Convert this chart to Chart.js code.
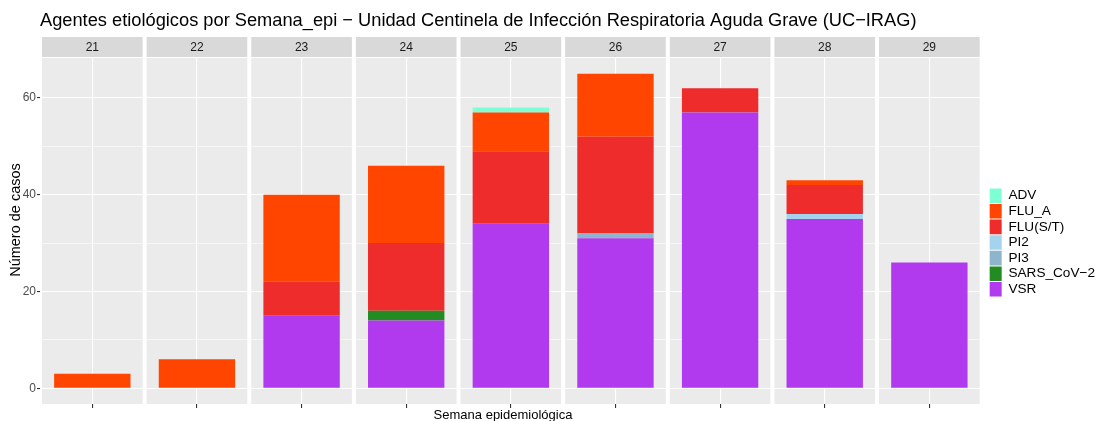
<!DOCTYPE html>
<html>
<head>
<meta charset="utf-8">
<script src="https://cdn.jsdelivr.net/npm/chart.js@4/dist/chart.umd.min.js"></script>
<style>
  body { margin: 0; background: #fff; }
  #wrap { width: 1096px; height: 421px; }
</style>
</head>
<body>
<div id="wrap"><canvas id="irag-chart"></canvas></div>
<script>
const semanas = ['21', '22', '23', '24', '25', '26', '27', '28', '29'];
const vsr     = [0, 0, 15, 14, 34, 31, 57, 35, 26];
const sarsCov = [0, 0, 0, 2, 0, 0, 0, 0, 0];
const pi3     = [0, 0, 0, 0, 0, 1, 0, 0, 0];
const pi2     = [0, 0, 0, 0, 0, 0, 0, 1, 0];
const fluST   = [0, 0, 7, 14, 15, 20, 5, 6, 0];
const fluA    = [3, 6, 18, 16, 8, 13, 0, 1, 0];
const adv     = [0, 0, 0, 0, 1, 0, 0, 0, 0];
const yTicks  = [0, 10, 20, 30, 40, 50, 60];

const FONT = '"Liberation Sans", Arial, sans-serif';
Chart.defaults.font.family = FONT;

// facet panels + strips under the grid, axis titles on top
const facetPanels = {
    id: 'facetPanels',
    beforeDraw(chart) {
        const { ctx, chartArea, scales: { x } } = chart;
        const step = (chartArea.right - chartArea.left) / semanas.length;
        const half = step / 2 - 2;
        ctx.save();
        ctx.fillStyle = '#ffffff';
        ctx.fillRect(0, 0, chart.width, chart.height);
        semanas.forEach((s, i) => {
            const cx = x.getPixelForValue(i);
            ctx.fillStyle = '#EBEBEB';
            ctx.fillRect(cx - half, chartArea.top, half * 2, chartArea.bottom - chartArea.top);
            ctx.fillStyle = '#D9D9D9';
            ctx.fillRect(cx - half, chartArea.top - 21, half * 2, 20);
            ctx.fillStyle = '#1A1A1A';
            ctx.font = '12px ' + FONT;
            ctx.textAlign = 'center';
            ctx.textBaseline = 'middle';
            ctx.fillText(s, cx, chartArea.top - 10.5);
        });
        ctx.restore();
    },
    afterLayout(chart) {
        // push the legend a bit right and down, like the ggplot guide
        const lg = chart.legend;
        const dx = chart.chartArea.right + 7 - lg.left;
        const dy = 32;
        lg.left += dx; lg.right += dx;
        lg.top += dy; lg.bottom += dy;
    },
    afterDraw(chart) {
        const { ctx } = chart;
        ctx.save();
        ctx.fillStyle = '#000';
        ctx.textAlign = 'center';
        ctx.textBaseline = 'middle';
        ctx.font = '13px ' + FONT;
        ctx.fillText('Semana epidemiológica', 503, 415.5);
        ctx.translate(15.5, 220);
        ctx.rotate(-Math.PI / 2);
        ctx.font = '14.5px ' + FONT;
        ctx.fillText('Número de casos', 0, 0);
        ctx.restore();
    }
};

const ctx = document.getElementById('irag-chart').getContext('2d');
new Chart(ctx, {
    type: 'bar',
    data: {
        labels: semanas,
        datasets: [
            { label: 'VSR', data: vsr, backgroundColor: '#B23AEE' },
            { label: 'SARS_CoV\u22122', data: sarsCov, backgroundColor: '#228B22' },
            { label: 'PI3', data: pi3, backgroundColor: '#8DB6CD' },
            { label: 'PI2', data: pi2, backgroundColor: '#A4D3EE' },
            { label: 'FLU(S/T)', data: fluST, backgroundColor: '#EE2C2C' },
            { label: 'FLU_A', data: fluA, backgroundColor: '#FF4500' },
            { label: 'ADV', data: adv, backgroundColor: '#7FFFD4' }
        ]
    },
    options: {
        responsive: true,
        maintainAspectRatio: false,
        animation: false,
        datasets: { bar: { barPercentage: 0.73, categoryPercentage: 1 } },
        layout: { padding: { top: 0, right: -2, bottom: 0, left: 0 } },
        plugins: {
            title: {
                display: true,
                fullSize: false,
                align: 'start',
                text: 'Agentes etiológicos por Semana_epi \u2212 Unidad Centinela de Infección Respiratoria Aguda Grave (UC\u2212IRAG)',
                color: '#000',
                font: { size: 18.25, weight: 'normal' },
                padding: { top: 10, bottom: 26.1 }
            },
            legend: {
                position: 'right',
                reverse: true,
                labels: {
                    boxWidth: 12,
                    boxHeight: 14.6,
                    padding: 1,
                    color: '#000',
                    font: { size: 13.6 }
                }
            },
            tooltip: { enabled: false }
        },
        scales: {
            x: {
                stacked: true,
                border: { display: false },
                grid: {
                    offset: false,
                    color: '#ffffff',
                    lineWidth: 1.1,
                    tickColor: '#333333',
                    tickLength: 4
                },
                ticks: { display: false },
                afterFit: (scale) => { scale.height = 17; }
            },
            y: {
                stacked: true,
                min: -3.25,
                max: 68.25,
                border: { display: false },
                afterBuildTicks: (scale) => { scale.ticks = yTicks.map(v => ({ value: v })); },
                grid: {
                    color: '#ffffff',
                    lineWidth: (c) => (c.tick && c.tick.value % 20 === 0 ? 1.1 : 0.55),
                    tickColor: (c) => (c.tick && c.tick.value % 20 === 0 ? '#333333' : 'rgba(0,0,0,0)'),
                    tickLength: 3
                },
                ticks: {
                    color: '#4D4D4D',
                    font: { size: 12 },
                    padding: 1,
                    callback: (v) => (v % 20 === 0 ? v : '')
                },
                afterFit: (scale) => { scale.width = 40; }
            }
        }
    },
    plugins: [facetPanels]
});
</script>
</body>
</html>
